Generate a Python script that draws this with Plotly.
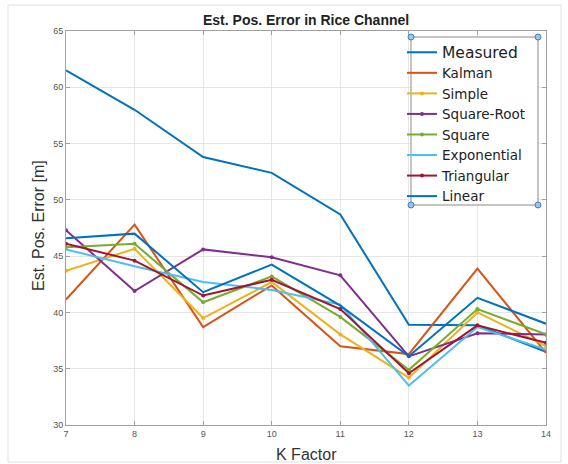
import plotly.graph_objects as go

k_factor = [7, 8, 9, 10, 11, 12, 13, 14]
measured = [61.5, 58.0, 53.8, 52.4, 48.7, 38.9, 38.85, 36.5]
kalman = [41.15, 47.8, 38.7, 42.4, 37.0, 36.3, 43.9, 36.4]
simple = [43.7, 45.65, 39.5, 42.7, 38.05, 34.2, 40.0, 37.0]
square_root = [47.3, 41.9, 45.6, 44.9, 43.3, 36.1, 38.15, 38.05]
square = [45.8, 46.1, 40.9, 43.2, 39.6, 34.9, 40.3, 38.05]
exponential = [45.6, 44.1, 42.7, 42.0, 40.7, 33.5, 38.7, 36.7]
triangular = [46.1, 44.6, 41.5, 42.9, 40.3, 34.6, 38.85, 37.3]
linear = [46.6, 47.0, 41.8, 44.25, 40.6, 36.1, 41.3, 39.0]

series = [
    ("<span style='font-size:15.5px'>Measured</span>", measured, "#0072BD", False),
    ("Kalman", kalman, "#D95319", False),
    ("Simple", simple, "#EDB120", True),
    ("Square-Root", square_root, "#7E2F8E", True),
    ("Square", square, "#77AC30", True),
    ("Exponential", exponential, "#4DBEEE", False),
    ("Triangular", triangular, "#A2142F", True),
    ("Linear", linear, "#0072BD", False),
]

fig = go.Figure()
for name, vals, color, marker in series:
    fig.add_trace(go.Scatter(
        x=k_factor, y=vals, name=name,
        mode="lines+markers" if marker else "lines",
        line=dict(color=color, width=2),
        marker=dict(size=4, color=color),
    ))

W, H = 568, 464
L, R, T, B = 66, 22, 31, 39
PW, PH = W - L - R, H - T - B


def px_x(p):
    return (p - L) / PW


def px_y(p):
    return (H - B - p) / PH


FONT = "Arial, Liberation Sans, sans-serif"

axis_common = dict(
    showgrid=True, gridcolor="#e6e6e6", gridwidth=1,
    showline=True, linecolor="#a0a0a0", linewidth=1, mirror="ticks",
    ticks="inside", ticklen=4, tickcolor="#a0a0a0",
    tickfont=dict(family=FONT, size=9, color="#555555"),
    zeroline=False, automargin=False,
)

fig.update_layout(
    width=W, height=H,
    margin=dict(l=L, r=R, t=T, b=B, autoexpand=False),
    paper_bgcolor="white", plot_bgcolor="white",
    xaxis=dict(range=[7, 14], dtick=1, **axis_common),
    yaxis=dict(range=[30, 65], dtick=5, **axis_common),
    legend=dict(x=px_x(402), y=px_y(37),
                xanchor="left", yanchor="top",
                bgcolor="rgba(0,0,0,0)", borderwidth=0,
                font=dict(family="DejaVu Sans, sans-serif", size=13.5, color="#222222"),
                itemwidth=30, tracegroupgap=0),
    showlegend=True,
)

# title and axis titles
fig.add_annotation(text="<b>Est. Pos. Error in Rice Channel</b>", xref="paper", yref="paper",
                   x=px_x(306), y=px_y(20), xanchor="center", yanchor="middle", showarrow=False,
                   font=dict(family=FONT, size=14, color="#222222"))
fig.add_annotation(text="K Factor", xref="paper", yref="paper",
                   x=px_x(306), y=px_y(454), xanchor="center", yanchor="middle", showarrow=False,
                   font=dict(family=FONT, size=16, color="#333333"))
fig.add_annotation(text="Est. Pos. Error [m]", xref="paper", yref="paper", textangle=-90,
                   x=px_x(38), y=px_y(226), xanchor="center", yanchor="middle", showarrow=False,
                   font=dict(family=FONT, size=16, color="#333333"))

# outer figure frame
fig.add_shape(type="rect", xref="paper", yref="paper",
              x0=px_x(8), x1=px_x(561), y0=px_y(462), y1=px_y(5),
              line=dict(color="#e0e0e0", width=1), layer="below")

# legend box (drawn under the legend entries)
fig.add_shape(type="rect", xref="paper", yref="paper",
              x0=px_x(411), x1=px_x(538), y0=px_y(205), y1=px_y(37),
              line=dict(color="#8a8a8a", width=1), fillcolor="white", layer="above")

# legend selection handles
for cxp, cyp in [(411, 37), (538, 37), (411, 205), (538, 205)]:
    cx, cy = px_x(cxp), px_y(cyp)
    dx, dy = 3 / PW, 3 / PH
    fig.add_shape(type="circle", xref="paper", yref="paper",
                  x0=cx - dx, x1=cx + dx, y0=cy - dy, y1=cy + dy,
                  line=dict(color="#3d7fc0", width=1), fillcolor="#9cc3e8")

fig.write_html("out.html")
